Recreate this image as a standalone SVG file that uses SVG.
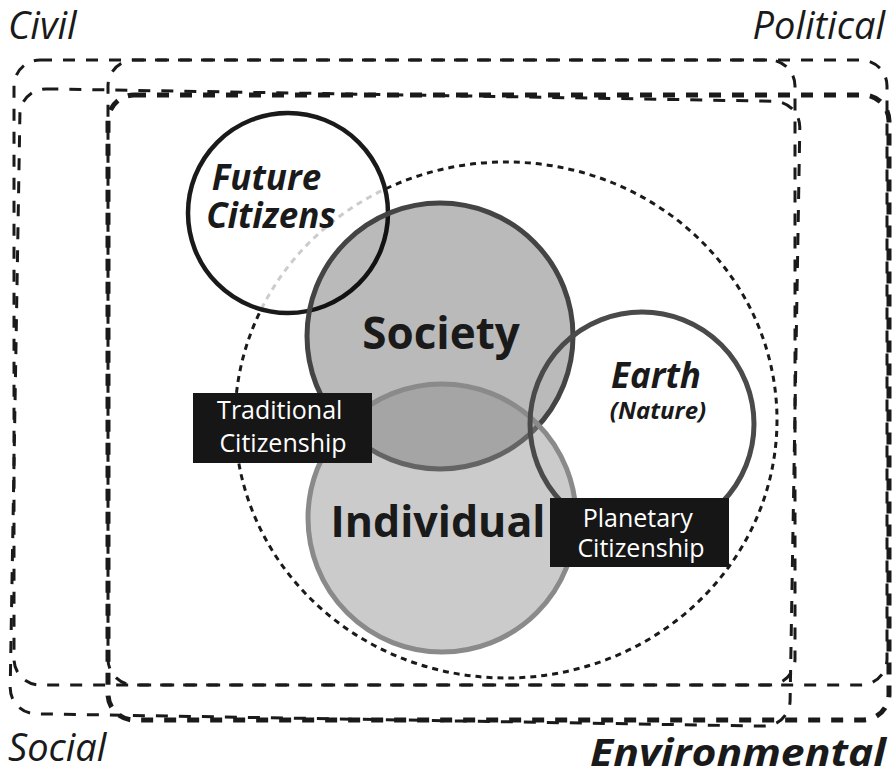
<svg xmlns="http://www.w3.org/2000/svg" width="894" height="774" viewBox="0 0 894 774">
  <style>
    .frame { fill: none; stroke: #1a1a1a; stroke-width: 3; stroke-dasharray: 12 11; }
    .frame-bold { fill: none; stroke: #1a1a1a; stroke-width: 5; stroke-dasharray: 12 11; }
    .corner { font-family: "Open Sans", "Noto Sans", sans-serif; font-style: italic; font-size: 38px; fill: #1a1a1a; }
    .big { font-family: "Open Sans", "Noto Sans", sans-serif; font-weight: 700; fill: #1a1a1a; text-anchor: middle; }
    .tag-box { fill: #161616; }
    .tag { font-family: "Open Sans", "Noto Sans", sans-serif; font-size: 25px; fill: #ffffff; text-anchor: middle; }
  </style>

  <!-- four overlapping dimension frames -->
  <g id="civil">
    <rect class="frame" x="14" y="60" width="781" height="625" rx="26"/>
    <text class="corner" x="8" y="39">Civil</text>
  </g>
  <g id="political">
    <rect class="frame" x="108" y="60" width="779" height="625" rx="26"/>
    <text class="corner" x="885" y="39" text-anchor="end">Political</text>
  </g>
  <g id="social">
    <rect class="frame" x="15" y="95" width="780" height="625" rx="26" transform="rotate(0.97 405 407.5)"/>
    <text class="corner" x="8" y="761">Social</text>
  </g>
  <g id="environmental">
    <rect class="frame-bold" x="108" y="95" width="781" height="625" rx="26"/>
    <text class="corner" x="590" y="766" font-weight="700" font-size="43" textLength="296" lengthAdjust="spacingAndGlyphs">Environmental</text>
  </g>

  <!-- dotted boundary of the citizenship sphere -->
  <g id="citizenship-sphere">
    <ellipse cx="506" cy="420" rx="271" ry="258" fill="none" stroke="#1a1a1a" stroke-width="3" stroke-dasharray="6 5"/>
  </g>

  <g id="future-citizens">
    <circle cx="288" cy="213" r="100" fill="#ffffff" fill-opacity="0.78" stroke="#1a1a1a" stroke-width="4.5"/>
    <text class="big" font-style="italic" font-weight="600" font-size="35">
      <tspan x="271" y="190">Future</tspan>
      <tspan x="271" y="228">Citizens</tspan>
    </text>
  </g>

  <g id="society">
    <circle cx="440" cy="336" r="133" fill="#000000" fill-opacity="0.27" stroke="#444444" stroke-width="5"/>
    <text class="big" x="441" y="349" font-size="44">Society</text>
  </g>

  <g id="individual">
    <circle cx="442" cy="518" r="134" fill="#8b8b8b" fill-opacity="0.45" stroke="#8a8a8a" stroke-width="5"/>
    <text class="big" x="438" y="537" font-size="43">Individual</text>
  </g>

  <g id="earth">
    <circle cx="642" cy="424" r="112" fill="none" stroke="#4a4a4a" stroke-width="5"/>
    <text class="big" font-style="italic">
      <tspan x="658" y="388" font-size="35">Earth</tspan>
      <tspan x="658" y="419" font-size="24">(Nature)</tspan>
    </text>
  </g>

  <g id="traditional-citizenship">
    <rect class="tag-box" x="193" y="393" width="179" height="70"/>
    <text class="tag">
      <tspan x="283" y="419">Traditional</tspan>
      <tspan x="283" y="452">Citizenship</tspan>
    </text>
  </g>

  <g id="planetary-citizenship">
    <rect class="tag-box" x="550" y="498" width="179" height="69"/>
    <text class="tag">
      <tspan x="641" y="527">Planetary</tspan>
      <tspan x="641" y="557">Citizenship</tspan>
    </text>
  </g>
</svg>
